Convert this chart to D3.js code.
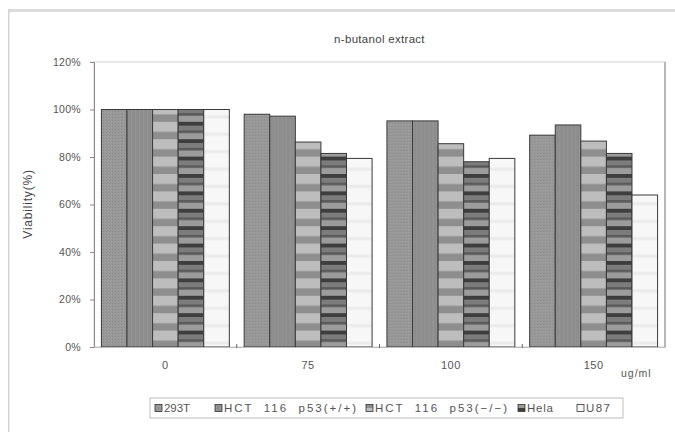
<!DOCTYPE html>
<html>
<head>
<meta charset="utf-8">
<script src="https://cdn.jsdelivr.net/npm/d3@7"></script>
<style>
  html, body { margin: 0; padding: 0; background: #fff; }
  svg { display: block; font-family: "Liberation Sans", Arial, sans-serif; }
  .lg { white-space: pre; }
</style>
</head>
<body>
<svg id="chart" width="675" height="432"></svg>
<script>
// Viability of cell lines after n-butanol extract treatment
const doses = ["0", "75", "100", "150"];
const seriesNames = ["293T", "HCT  116  p53(+/+)", "HCT  116  p53(\u2212/\u2212)", "Hela", "U87"];
const v293T   = [100, 98, 95.2, 89.2];
const vHCTwt  = [100, 97.2, 95.2, 93.5];
const vHCTko  = [100, 86.3, 85.6, 86.7];
const vHela   = [100, 81.5, 78, 81.5];
const vU87    = [100, 79.4, 79.4, 64];
const yTicks  = [0, 20, 40, 60, 80, 100, 120];
const doseUnit = "ug/ml";
const titleText = "n-butanol extract";
const yTitle = "Viability(%)";

const seriesValues = [v293T, vHCTwt, vHCTko, vHela, vU87];
const rows = doses.map((d, i) => ({
  dose: d,
  vals: seriesNames.map((s, k) => ({ key: s, k, value: seriesValues[k][i] }))
}));

const svg = d3.select("#chart");
const plot = { left: 94, right: 665, top: 62, bottom: 347 };

// fill patterns for each series
const defs = svg.append("defs");
const P = 17.4;
function pat(id, w, h, draw) {
  const p = defs.append("pattern").attr("id", id)
    .attr("patternUnits", "userSpaceOnUse").attr("width", w).attr("height", h);
  draw(p);
}
pat("p0", 3, 3, p => {
  p.append("rect").attr("width", 3).attr("height", 3).attr("fill", "#989898");
  p.append("rect").attr("x", 0).attr("y", 0).attr("width", 1).attr("height", 1).attr("fill", "#8a8a8a");
  p.append("rect").attr("x", 2).attr("y", 1).attr("width", 1).attr("height", 1).attr("fill", "#a2a2a2");
});
pat("p1", 4, 4, p => {
  p.append("rect").attr("width", 4).attr("height", 4).attr("fill", "#8d8d8d");
  p.append("rect").attr("x", 1).attr("width", 1).attr("height", 4).attr("fill", "#959595");
});
pat("p2", 4, P, p => {
  p.append("rect").attr("width", 4).attr("height", P).attr("fill", "#bdbdbd");
  p.append("rect").attr("y", 10).attr("width", 4).attr("height", 7.4).attr("fill", "#8e8e8e");
});
pat("p3", 4, P, p => {
  p.append("rect").attr("width", 4).attr("height", P).attr("fill", "#9c9c9c");
  p.append("rect").attr("y", 0).attr("width", 4).attr("height", 4).attr("fill", "#3e3e3e");
  p.append("rect").attr("y", 4).attr("width", 4).attr("height", 4.7).attr("fill", "#7c7c7c");
  p.append("rect").attr("y", 8.7).attr("width", 4).attr("height", 2.6).attr("fill", "#5a5a5a");
});
pat("p4", 4, P, p => {
  p.append("rect").attr("width", 4).attr("height", P).attr("fill", "#f7f7f7");
  p.append("rect").attr("y", 11).attr("width", 4).attr("height", 3).attr("fill", "#ebebeb");
});
const fillOf = k => `url(#p${k})`;

// outer frame lines
svg.append("rect").attr("x", 8).attr("y", 9).attr("width", 667).attr("height", 3).attr("fill", "#dcdcdc");
svg.append("rect").attr("x", 8).attr("y", 9).attr("width", 1.5).attr("height", 423).attr("fill", "#d4d4d4");

// scales
const x0 = d3.scaleBand().domain(doses).range([plot.left, plot.right]).paddingInner(0).paddingOuter(0);
const x1 = d3.scaleBand().domain(seriesNames).range([0, x0.bandwidth()]).paddingInner(0).paddingOuter(0.29);
const y = d3.scaleLinear().domain([0, 120]).range([plot.bottom, plot.top]);

// plot area border
svg.append("rect")
  .attr("x", plot.left).attr("y", plot.top)
  .attr("width", plot.right - plot.left).attr("height", plot.bottom - plot.top)
  .attr("fill", "#fff").attr("stroke", "#cfcfcf").attr("stroke-width", 1);
svg.append("line").attr("x1", plot.right).attr("x2", plot.right)
  .attr("y1", plot.top).attr("y2", plot.bottom).attr("stroke", "#a8a8a8").attr("stroke-width", 1.5);

// bars
const g = svg.append("g");
g.selectAll("g.grp").data(rows).join("g").attr("class", "grp")
  .attr("transform", d => `translate(${x0(d.dose)},0)`)
  .selectAll("rect").data(d => d.vals).join("rect")
  .attr("x", d => x1(d.key))
  .attr("y", d => y(d.value))
  .attr("width", x1.bandwidth())
  .attr("height", d => y(0) - y(d.value))
  .attr("fill", d => fillOf(d.k))
  .attr("stroke", "#3a3a3a").attr("stroke-width", 1);

// y axis
const yAxis = d3.axisLeft(y).tickValues(yTicks).tickSize(4).tickFormat(d => d + "%");
const ya = svg.append("g").attr("transform", `translate(${plot.left},0)`).call(yAxis);
ya.select(".domain").attr("stroke", "#8a8a8a");
ya.selectAll(".tick line").attr("stroke", "#8a8a8a");
ya.selectAll(".tick text").attr("x", -13).attr("font-size", 10.5).attr("fill", "#555")
  .attr("letter-spacing", 0.3);

// x axis
const xAxis = d3.axisBottom(x0).tickSize(0).tickPadding(14);
const xa = svg.append("g").attr("transform", `translate(0,${plot.bottom})`).call(xAxis);
xa.select(".domain").attr("stroke", "#bdbdbd");
xa.selectAll(".tick text").attr("font-size", 11).attr("fill", "#555").attr("letter-spacing", 0.5);
// separators between dose groups
svg.append("g").selectAll("line").data(doses.slice(1)).join("line")
  .attr("x1", d => x0(d)).attr("x2", d => x0(d))
  .attr("y1", plot.bottom - 3).attr("y2", plot.bottom + 1)
  .attr("stroke", "#666");

svg.append("text").attr("x", 621).attr("y", 377).attr("font-size", 10.5)
  .attr("fill", "#555").attr("letter-spacing", 1).text(doseUnit);

// title
svg.append("text").attr("x", (plot.left + plot.right) / 2).attr("y", 43)
  .attr("text-anchor", "middle").attr("font-size", 11.5).attr("fill", "#444")
  .attr("letter-spacing", 0.3).text(titleText);

// y title
svg.append("text").attr("transform", "translate(32,204) rotate(-90)")
  .attr("text-anchor", "middle").attr("font-size", 12).attr("fill", "#444")
  .attr("letter-spacing", 0.8).text(yTitle);

// legend
const leg = svg.append("g");
leg.append("rect").attr("x", 150).attr("y", 398).attr("width", 473).attr("height", 20)
  .attr("fill", "#fff").attr("stroke", "#bdbdbd");
const legX = [155, 215, 366, 518, 577];
const legW = [26, 132, 132, 26, 24];
const items = leg.selectAll("g.item").data(seriesNames).join("g").attr("class", "item")
  .attr("transform", (d, i) => `translate(${legX[i]},408)`);
items.append("rect").attr("x", 0).attr("y", -3.5).attr("width", 7).attr("height", 7)
  .attr("fill", (d, i) => fillOf(i)).attr("stroke", "#333").attr("stroke-width", 0.8);
items.append("text").attr("class", "lg").attr("x", 9).attr("y", 4).attr("font-size", 11.5)
  .attr("fill", "#555")
  .attr("textLength", (d, i) => legW[i]).attr("lengthAdjust", "spacing")
  .text(d => d);
</script>
</body>
</html>
